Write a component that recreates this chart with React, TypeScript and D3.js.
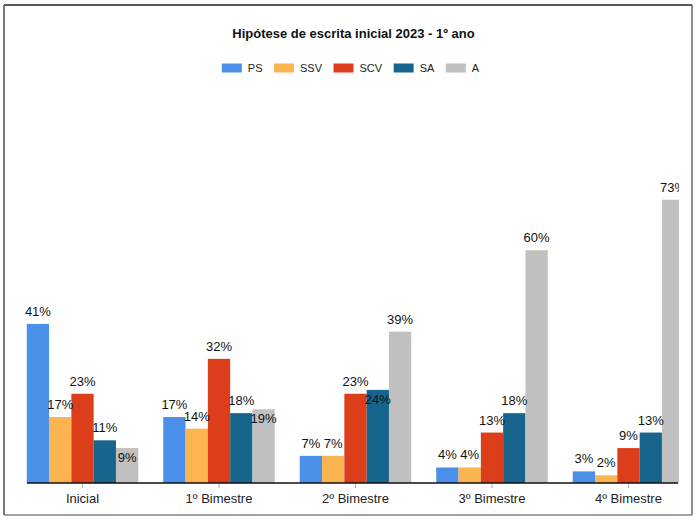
import React from "react";
import * as d3 from "d3";

const categories = ["Inicial", "1º Bimestre", "2º Bimestre", "3º Bimestre", "4º Bimestre"];
const seriesNames = ["PS", "SSV", "SCV", "SA", "A"];
const seriesColors = ["#4a8fe8", "#fbb450", "#dc3e1c", "#17648c", "#c0c0c0"];
const valuesPS = [41, 17, 7, 4, 3];
const valuesSSV = [17, 14, 7, 4, 2];
const valuesSCV = [23, 32, 23, 13, 9];
const valuesSA = [11, 18, 24, 18, 13];
const valuesA = [9, 19, 39, 60, 73];
const title = "Hipótese de escrita inicial 2023 - 1º ano";

const W = 699;
const H = 522;
const FONT = "Arial, 'Liberation Sans', sans-serif";

function textW(s: string, size: number) {
  let w = 0;
  for (const ch of s) {
    if (/[0-9]/.test(ch)) w += 0.556;
    else if (ch === "%") w += 0.889;
    else if ("SPV".includes(ch)) w += 0.667;
    else if (ch === "C") w += 0.722;
    else if (ch === "A") w += 0.667;
    else w += 0.55;
  }
  return w * size;
}

export default function App() {
  const data = [valuesPS, valuesSSV, valuesSCV, valuesSA, valuesA];
  const plotLeft = 27;
  const plotRight = 678;
  const baseY = 483;

  const x0 = d3.scaleBand<string>().domain(categories).range([26.75, 684.25]).paddingInner(0.183).paddingOuter(0);
  const x1 = d3.scaleBand<string>().domain(seriesNames).range([0, x0.bandwidth()]).padding(0);
  const y = d3.scaleLinear().domain([0, 100]).range([baseY, baseY - 388]);

  const labels: { x: number; y: number; text: string }[] = [];
  categories.forEach((c, i) => {
    let prev: { cx: number; cy: number; hw: number } | null = null;
    seriesNames.forEach((s, j) => {
      const v = data[j][i];
      const top = y(v);
      const cx = (x0(c) as number) + (x1(s) as number) + x1.bandwidth() / 2;
      const text = `${v}%`;
      const hw = textW(text, 13) / 2;
      let base = top - 8;
      let cy = base - 4.7;
      if (prev && Math.abs(cy - prev.cy) < 11 && cx - prev.cx < hw + prev.hw + 2) {
        base = top + 14;
        cy = base - 4.7;
      }
      labels.push({ x: cx, y: base, text });
      prev = { cx, cy, hw };
    });
  });

  const legFont = 11;
  const sw = 20;
  const items = seriesNames.map((n) => sw + 6 + textW(n, legFont));
  const gap = 11.5;
  const totalLeg = d3.sum(items) + gap * (items.length - 1);
  let lx = 350.5 - totalLeg / 2;
  const legPos = items.map((w) => {
    const p = lx;
    lx += w + gap;
    return p;
  });

  return (
    <svg width={W} height={H} style={{ position: "absolute", left: 0, top: 0, fontFamily: FONT }}>
      <rect x={0} y={0} width={W} height={H} fill="#fff" />
      <defs>
        <clipPath id="plotclip">
          <rect x={0} y={0} width={plotRight + 1} height={baseY} />
        </clipPath>
      </defs>
      <line x1={4} y1={5} x2={692} y2={5} stroke="#222" strokeWidth={1.5} />
      <line x1={4} y1={5} x2={4} y2={515} stroke="#777" strokeWidth={2} />
      <line x1={692} y1={5} x2={692} y2={515} stroke="#444" strokeWidth={1.2} />
      <line x1={4} y1={515} x2={692} y2={515} stroke="#444" strokeWidth={1.2} />

      <text x={353.5} y={37.5} textAnchor="middle" fontWeight="bold" fontSize={13} fill="#111">
        {title}
      </text>

      {seriesNames.map((n, j) => (
        <g key={n}>
          <rect x={legPos[j]} y={63.5} width={sw} height={9} fill={seriesColors[j]} />
          <text x={legPos[j] + sw + 6} y={72} fontSize={legFont} fill="#222">
            {n}
          </text>
        </g>
      ))}

      <g clipPath="url(#plotclip)">
        {categories.map((c, i) =>
          seriesNames.map((s, j) => (
            <rect
              key={c + s}
              x={(x0(c) as number) + (x1(s) as number)}
              y={y(data[j][i])}
              width={x1.bandwidth()}
              height={baseY - y(data[j][i])}
              fill={seriesColors[j]}
            />
          ))
        )}
        {labels.map((l, k) => (
          <text key={k} x={l.x} y={l.y} textAnchor="middle" fontSize={13} fill="#111">
            {l.text}
          </text>
        ))}
      </g>

      <line x1={plotLeft} y1={baseY} x2={plotRight} y2={baseY} stroke="#111" strokeWidth={1.6} />
      {categories.map((c) => {
        const cx = (x0(c) as number) + x0.bandwidth() / 2;
        return (
          <g key={c}>
            <line x1={cx} y1={baseY + 1} x2={cx} y2={baseY + 5} stroke="#aaa" strokeWidth={1} />
            <text x={cx} y={503} textAnchor="middle" fontSize={13} fill="#222">
              {c}
            </text>
          </g>
        );
      })}
    </svg>
  );
}
